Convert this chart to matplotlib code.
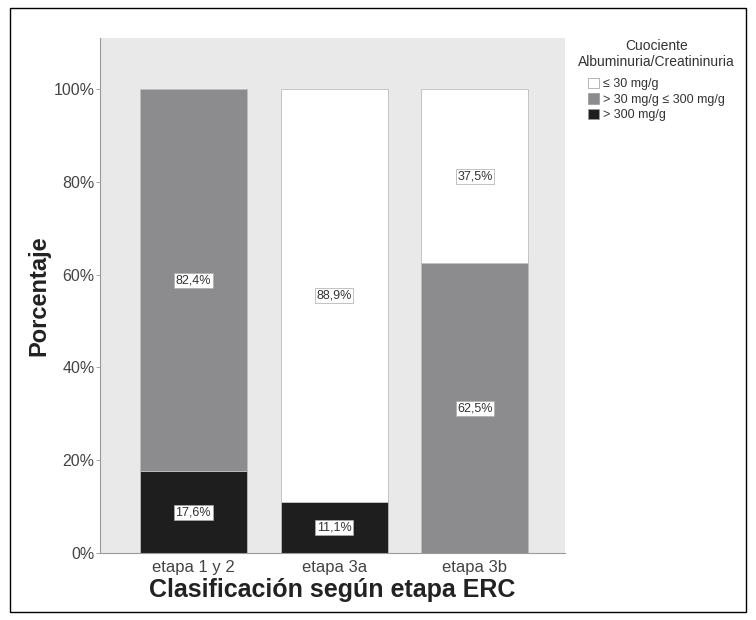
import matplotlib.pyplot as plt
from matplotlib.patches import Rectangle, Patch
import numpy as np

plt.rcParams['font.family'] = ['Liberation Sans', 'DejaVu Sans']

# Data (percent)
etapas = ["etapa 1 y 2", "etapa 3a", "etapa 3b"]
alta = [17.6, 11.1, 0.0]        # > 300 mg/g
media = [82.4, 0.0, 62.5]       # > 30 mg/g <= 300 mg/g
baja = [0.0, 88.9, 37.5]        # <= 30 mg/g
yticks = [0, 20, 40, 60, 80, 100]
leyenda = ["\u2264 30 mg/g", "> 30 mg/g \u2264 300 mg/g", "> 300 mg/g"]

c_baja = "#ffffff"
c_media = "#8c8c8e"
c_alta = "#1e1e1e"

fig = plt.figure(figsize=(7.56, 6.2), dpi=100)
ax = fig.add_axes([0.1323, 0.108, 0.615, 0.8306])
ax.set_facecolor("#e9e9e9")

x = np.arange(len(etapas))
w = 0.76
alta = np.array(alta)
media = np.array(media)
baja = np.array(baja)

ax.bar(x, alta, w, color=c_alta, edgecolor="#bdbdbd", linewidth=0.6, zorder=2)
ax.bar(x, media, w, bottom=alta, color=c_media, edgecolor="#bdbdbd", linewidth=0.6, zorder=2)
ax.bar(x, baja, w, bottom=alta + media, color=c_baja, edgecolor="#bdbdbd", linewidth=0.6, zorder=2)

# Segment labels
bottoms = [np.zeros(3), alta, alta + media]
for vals, bot in zip([alta, media, baja], bottoms):
    for i in range(3):
        if vals[i] > 0:
            txt = f"{vals[i]:.1f}%".replace(".", ",")
            ax.text(x[i], bot[i] + vals[i] / 2, txt, ha="center", va="center",
                    fontsize=9, color="#333333", zorder=3,
                    bbox=dict(boxstyle="square,pad=0.12", fc="white", ec="#aaaaaa", lw=0.5))

ax.set_xlim(-0.663, 2.64)
ax.set_ylim(0, 111)
ax.set_yticks(yticks)
ax.set_yticklabels([f"{t}%" for t in yticks], fontsize=11.5, color="#444444")
ax.set_xticks(x)
ax.set_xticklabels(etapas, fontsize=12, color="#444444")
ax.tick_params(axis="y", color="#9a9a9a", length=3, width=0.6, pad=1)
ax.tick_params(axis="x", length=0, pad=5)
for s in ["top", "right"]:
    ax.spines[s].set_visible(False)
for s in ["left", "bottom"]:
    ax.spines[s].set_color("#9a9a9a")
    ax.spines[s].set_linewidth(0.8)

ax.set_ylabel("Porcentaje", fontsize=17, fontweight="bold", color="#222222", labelpad=2)
ax.set_xlabel("Clasificación según etapa ERC", fontsize=18, fontweight="bold", color="#222222", labelpad=2)

handles = [Patch(facecolor=c, edgecolor="#999999", linewidth=0.5) for c in [c_baja, c_media, c_alta]]
leg = fig.legend(handles, leyenda, title="Cuociente\nAlbuminuria/Creatininuria",
                 loc="upper center", bbox_to_anchor=(0.868, 0.945), frameon=False,
                 fontsize=9, title_fontsize=10, handlelength=0.9, handleheight=0.9,
                 handletextpad=0.3, labelspacing=0.25, borderaxespad=0)
leg.get_title().set_color("#333333")
leg.get_title().set_multialignment("center")
leg._legend_box.sep = 6
for t in leg.get_texts():
    t.set_color("#333333")

# outer frame
fig.patches.append(Rectangle((0.013, 0.013), 0.974, 0.974, transform=fig.transFigure,
                             fill=False, edgecolor="black", linewidth=1.0))

fig.savefig("out.png", dpi=100)
